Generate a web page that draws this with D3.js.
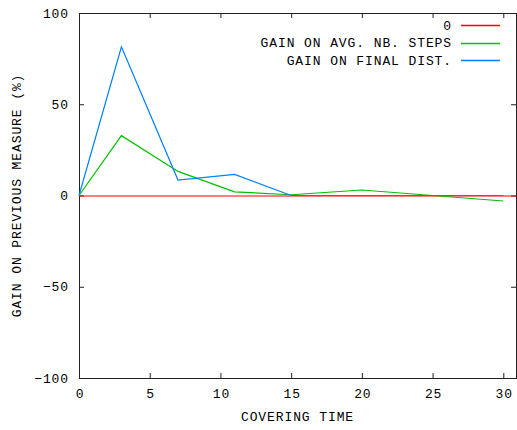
<!DOCTYPE html>
<html>
<head>
<meta charset="utf-8">
<script src="https://cdn.jsdelivr.net/npm/d3@7"></script>
<style>
body { margin:0; background:#fff; }
text { font-family: "Liberation Mono", monospace; font-size:13px; letter-spacing:0.9px; fill:#000; }
</style>
</head>
<body>
<div id="chart"></div>
<script>
// values
var xTicks = [0, 5, 10, 15, 20, 25, 30];
var yTicks = [-100, -50, 0, 50, 100];

var zeroX = [0, 30];
var zeroY = [0, 0];

var stepsX = [0, 3, 7, 11, 15, 20, 25, 30];
var stepsY = [0, 32.8, 13.2, 2.0, 0.4, 3.0, 0, -3.0];

var distX = [0, 3, 7, 11, 15, 20, 25, 30];
var distY = [0, 81.5, 8.5, 11.6, 0, 0, 0, 0];

var names = ['0', 'GAIN ON AVG. NB. STEPS', 'GAIN ON FINAL DIST.'];
var colors = ['#ff0000', '#00c000', '#0080ff'];

var W = 517, H = 430;
var pLeft = 79, pRight = 516, pTop = 13, pBottom = 378;

var svg = d3.select('#chart').append('svg')
  .attr('width', W)
  .attr('height', H);

var x = d3.scaleLinear().domain([0, 30]).range([pLeft, 503.3]);
var y = d3.scaleLinear().domain([-100, 100]).range([pBottom, pTop]);

// ticks (inside, mirrored like gnuplot)
var axB = svg.append('g').attr('transform', 'translate(0,' + pBottom + ')')
  .call(d3.axisBottom(x).tickValues(xTicks).tickSize(-5).tickPadding(11));
var axT = svg.append('g').attr('transform', 'translate(0,' + pTop + ')')
  .call(d3.axisTop(x).tickValues(xTicks).tickSize(-5).tickFormat(''));
var axL = svg.append('g').attr('transform', 'translate(' + pLeft + ',0)')
  .call(d3.axisLeft(y).tickValues(yTicks).tickSize(-5).tickPadding(10));
var axR = svg.append('g').attr('transform', 'translate(' + pRight + ',0)')
  .call(d3.axisRight(y).tickValues(yTicks).tickSize(-5).tickFormat(''));

svg.selectAll('.domain').remove();
svg.selectAll('.tick line').attr('stroke', '#222');
svg.selectAll('.tick text').style('font-family', '"Liberation Mono", monospace').style('font-size', '13px');
axB.selectAll('.tick text').attr('dx', '0.5');

svg.append('rect')
  .attr('x', pLeft + 0.5).attr('y', pTop + 0.5)
  .attr('width', pRight - pLeft).attr('height', pBottom - pTop)
  .attr('fill', 'none').attr('stroke', '#222');

// series
var series = [
  d3.zip(zeroX, zeroY),
  d3.zip(stepsX, stepsY),
  d3.zip(distX, distY)
];

var line = d3.line().x(function(d) { return x(d[0]); }).y(function(d) { return y(d[1]); });

// red zero line spans the whole plot width
svg.append('line')
  .attr('x1', pLeft).attr('x2', pRight)
  .attr('y1', y(0) + 0.5).attr('y2', y(0) + 0.5)
  .attr('stroke', colors[0])
  .attr('stroke-width', 1.2);

for (var i = 1; i < series.length; i++) {
  svg.append('path')
    .datum(series[i])
    .attr('d', line)
    .attr('fill', 'none')
    .attr('stroke', colors[i])
    .attr('stroke-width', 1.2);
}

// legend
var leg = svg.append('g');
names.forEach(function(nm, k) {
  var ly = 25 + k * 17.7;
  leg.append('text')
    .attr('x', 452).attr('y', ly)
    .attr('dy', '0.35em')
    .attr('text-anchor', 'end')
    .text(nm);
  leg.append('line')
    .attr('x1', 461).attr('x2', 500)
    .attr('y1', Math.round(ly) + 0.5).attr('y2', Math.round(ly) + 0.5)
    .style('stroke', colors[k])
    .style('stroke-width', 1.3);
});

// axis titles
svg.append('text')
  .attr('x', (pLeft + pRight) / 2)
  .attr('y', 421)
  .attr('text-anchor', 'middle')
  .text('COVERING TIME');

svg.append('text')
  .attr('transform', 'translate(21,' + ((pTop + pBottom) / 2) + ') rotate(-90)')
  .attr('text-anchor', 'middle')
  .text('GAIN ON PREVIOUS MEASURE (%)');
</script>
</body>
</html>
